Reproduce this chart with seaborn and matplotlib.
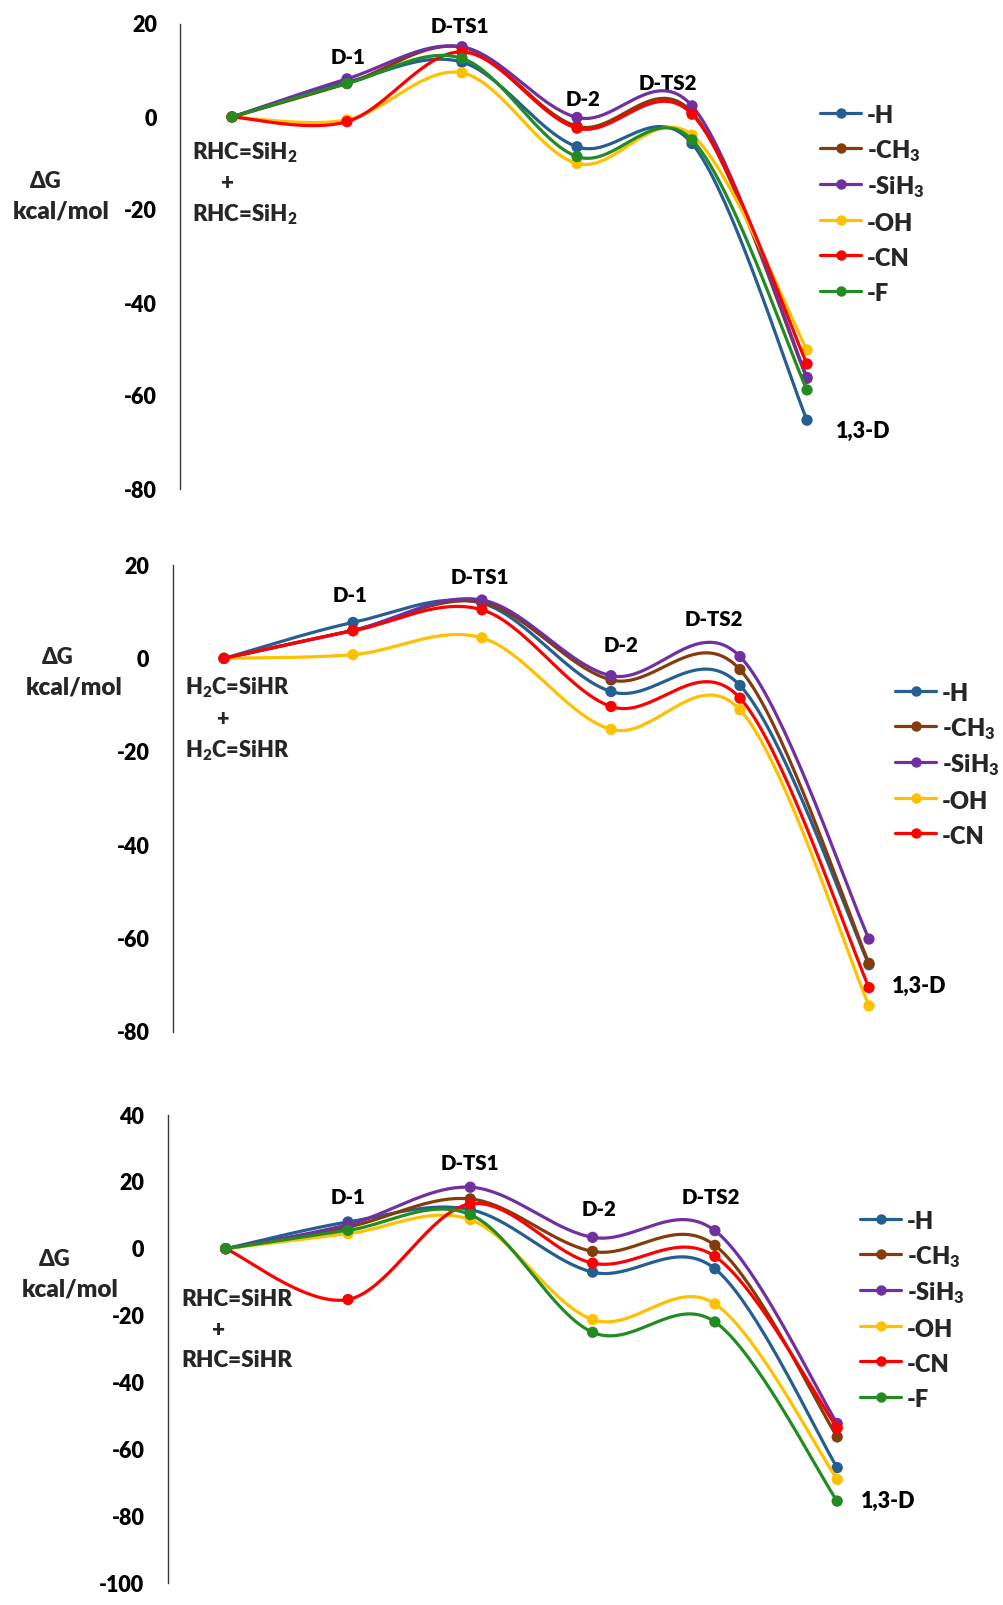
import numpy as np
import pandas as pd
import matplotlib
matplotlib.use("Agg")
import matplotlib.pyplot as plt
import seaborn as sns
from matplotlib.lines import Line2D

sns.set_theme(style="white")
plt.rcParams["font.family"] = ["Lato", "DejaVu Sans"]
plt.rcParams["font.weight"] = "heavy"
plt.rcParams["mathtext.fontset"] = "custom"
plt.rcParams["mathtext.rm"] = "Lato:heavy"
plt.rcParams["mathtext.it"] = "Lato:heavy"
plt.rcParams["mathtext.bf"] = "Lato:heavy"
plt.rcParams["mathtext.default"] = "regular"
WT = "heavy"

# ---------------- data ----------------
stages = ["R", "D-1", "D-TS1", "D-2", "D-TS2", "1,3-D"]
substituents = ["-H", "-CH$_3$", "-SiH$_3$", "-OH", "-CN", "-F"]
colors = ["#255E91", "#843C0C", "#7030A0", "#FFC000", "#FF0000", "#228B22"]

# Panel 1: RHC=SiH2 + RHC=SiH2
p1_H    = [0, 7.5, 11.8, -6.4, -5.7, -65.2]
p1_CH3  = [0, 7.2, 15.0, -2.0, 1.0, -56.2]
p1_SiH3 = [0, 8.2, 15.1, -0.1, 2.4, -56.0]
p1_OH   = [0, -0.6, 9.5, -10.0, -3.9, -50.1]
p1_CN   = [0, -1.0, 14.0, -2.4, 0.6, -53.1]
p1_F    = [0, 7.2, 12.6, -8.5, -4.9, -58.7]

# Panel 2: H2C=SiHR + H2C=SiHR
p2_H    = [0, 7.7, 11.8, -7.1, -5.8, -65.6]
p2_CH3  = [0, 6.0, 12.0, -4.6, -2.4, -65.3]
p2_SiH3 = [0, 6.0, 12.5, -3.7, 0.4, -60.1]
p2_OH   = [0, 0.8, 4.4, -15.2, -11.0, -74.4]
p2_CN   = [0, 5.9, 10.4, -10.3, -8.5, -70.5]

# Panel 3: RHC=SiHR + RHC=SiHR
p3_H    = [0, 8.0, 11.7, -7.0, -6.0, -65.5]
p3_CH3  = [0, 6.5, 14.9, -0.8, 1.0, -56.3]
p3_SiH3 = [0, 7.2, 18.4, 3.4, 5.4, -52.3]
p3_OH   = [0, 4.5, 8.7, -21.2, -16.5, -69.0]
p3_CN   = [0, -15.2, 13.4, -4.3, -2.3, -53.6]
p3_F    = [0, 5.5, 10.2, -25.0, -21.9, -75.5]

reactant_labels = ["RHC=SiH$_2$", "H$_2$C=SiHR", "RHC=SiHR"]
p1_ticks = [20, 0, -20, -40, -60, -80]
p2_ticks = [20, 0, -20, -40, -60, -80]
p3_ticks = [40, 20, 0, -20, -40, -60, -80, -100]

panels_data = [
    [p1_H, p1_CH3, p1_SiH3, p1_OH, p1_CN, p1_F],
    [p2_H, p2_CH3, p2_SiH3, p2_OH, p2_CN],
    [p3_H, p3_CH3, p3_SiH3, p3_OH, p3_CN, p3_F],
]
panels_ticks = [p1_ticks, p2_ticks, p3_ticks]

# ---------------- layout (pixels) ----------------
W, H = 1004, 1605
layout = [
    dict(left=180, top=24, bottom=489, x0=232, dx=115, tickfs=15.5, pad=16.5,
         stage_lab={"D-1": (0.01, 12.9), "D-TS1": (-0.02, 19.4), "D-2": (0.05, 3.7),
                    "D-TS2": (-0.21, 7.3), "1,3-D": (0.49, -67.7)},
         react=(-0.35, -7.7, -0.035, -14.2, -21.1),
         dg=(46, 182), kcal=(61, 212),
         leg=(820, 114)),
    dict(left=173, top=565, bottom=1032, x0=224, dx=129, tickfs=15.5, pad=17,
         stage_lab={"D-1": (-0.02, 13.4), "D-TS1": (-0.02, 17.4), "D-2": (0.08, 2.7),
                    "D-TS2": (-0.2, 8.3), "1,3-D": (0.39, -70.3)},
         react=(-0.30, -6.2, -0.016, -13.1, -19.8),
         dg=(58, 658), kcal=(74, 688),
         leg=(895, 692)),
    dict(left=168, top=1115, bottom=1583, x0=225.7, dx=122.3, tickfs=15.5, pad=17,
         stage_lab={"D-1": (0.0, 15.3), "D-TS1": (0.0, 25.6), "D-2": (0.05, 11.7),
                    "D-TS2": (-0.03, 15.3), "1,3-D": (0.42, -75.5)},
         react=(-0.36, -15.2, -0.06, -24.5, -33.5),
         dg=(55, 1259), kcal=(70, 1289),
         leg=(860, 1220)),
]
RIGHT = 1000
STAGE_FS = 14.7
END_FS = 15.5
REACT_FS = [16, 15.7, 16.2]
DG_FS = 15.8
KCAL_FS = 17.5
LEG_FS = 17


def smooth(y, n=40):
    """Excel-like smoothed line (cubic Bezier, Catmull-Rom tangents)."""
    y = np.asarray(y, float)
    x = np.arange(len(y), dtype=float)
    P = np.column_stack([x, y])
    out = []
    m = len(P)
    for i in range(m - 1):
        p0 = P[max(i - 1, 0)]
        p1 = P[i]
        p2 = P[i + 1]
        p3 = P[min(i + 2, m - 1)]
        c1 = p1 + (p2 - p0) / 6.0
        c2 = p2 - (p3 - p1) / 6.0
        t = np.linspace(0, 1, n)[:, None]
        b = (1 - t) ** 3 * p1 + 3 * (1 - t) ** 2 * t * c1 + 3 * (1 - t) * t ** 2 * c2 + t ** 3 * p2
        out.append(b if i == 0 else b[1:])
    b = np.vstack(out)
    return b[:, 0], b[:, 1]


fig = plt.figure(figsize=(W / 100, H / 100), dpi=100)

for pi, (series, ticks, L) in enumerate(zip(panels_data, panels_ticks, layout)):
    ax = fig.add_axes([L["left"] / W, 1 - L["bottom"] / H,
                       (RIGHT - L["left"]) / W, (L["bottom"] - L["top"]) / H])
    ax.set_xlim((L["left"] - L["x0"]) / L["dx"], (RIGHT - L["x0"]) / L["dx"])
    ax.set_ylim(min(ticks), max(ticks))
    ax.patch.set_alpha(0)
    for i, vals in enumerate(series):
        xs, ys = smooth(vals)
        df = pd.DataFrame({"x": xs, "y": ys})
        sns.lineplot(data=df, x="x", y="y", color=colors[i], lw=2.3, sort=False,
                     estimator=None, ax=ax, zorder=3 + i, clip_on=False)
        dp = pd.DataFrame({"x": np.arange(len(vals)), "y": vals})
        sns.scatterplot(data=dp, x="x", y="y", color=colors[i], s=66, edgecolor="none",
                        linewidth=0, ax=ax, zorder=3 + i, clip_on=False)
    ax.set_yticks(ticks)
    ax.set_yticklabels([str(t) for t in ticks], fontsize=L["tickfs"], fontweight=WT)
    ax.tick_params(axis="y", length=0, pad=L["pad"], colors="black")
    ax.set_xticks([])
    ax.set_xlabel("")
    ax.set_ylabel("")
    for s in ["top", "right", "bottom"]:
        ax.spines[s].set_visible(False)
    ax.spines["left"].set_color("#3a3a3a")
    ax.spines["left"].set_linewidth(1.0)

    # stage labels
    for k, name in enumerate(stages[1:], start=1):
        dx_, yv = L["stage_lab"][name]
        ax.text(k + dx_, yv, name, ha="center", va="center",
                fontsize=END_FS if name == "1,3-D" else STAGE_FS,
                fontweight=WT, color="black")
    rx, ry, px_, py1, py2 = L["react"]
    ax.text(rx, ry, reactant_labels[pi], ha="left", va="center", fontsize=REACT_FS[pi], fontweight=WT)
    ax.text(px_, py1, "+", ha="center", va="center", fontsize=REACT_FS[pi], fontweight=WT)
    ax.text(rx, py2, reactant_labels[pi], ha="left", va="center", fontsize=REACT_FS[pi], fontweight=WT)

    fig.text(L["dg"][0] / W, 1 - L["dg"][1] / H, "ΔG", ha="center", va="center",
             fontsize=DG_FS, fontweight=WT)
    fig.text(L["kcal"][0] / W, 1 - L["kcal"][1] / H, "kcal/mol", ha="center", va="center",
             fontsize=KCAL_FS, fontweight=WT)

    handles = [Line2D([], [], color=colors[i], lw=2.3, marker="o", ms=7.5, mec="none")
               for i in range(len(series))]
    row = 35
    lx, ly = L["leg"]
    ax.legend(handles, substituents[:len(series)], loc="upper left",
              bbox_to_anchor=(lx / W, 1 - (ly - row / 2 + 6) / H), bbox_transform=fig.transFigure,
              frameon=False, handlelength=1.75, handletextpad=0.25,
              labelspacing=0.4, handleheight=1.3, borderpad=0, borderaxespad=0,
              prop={"weight": WT, "size": LEG_FS})

fig.savefig("out.png", dpi=100, facecolor="white")
